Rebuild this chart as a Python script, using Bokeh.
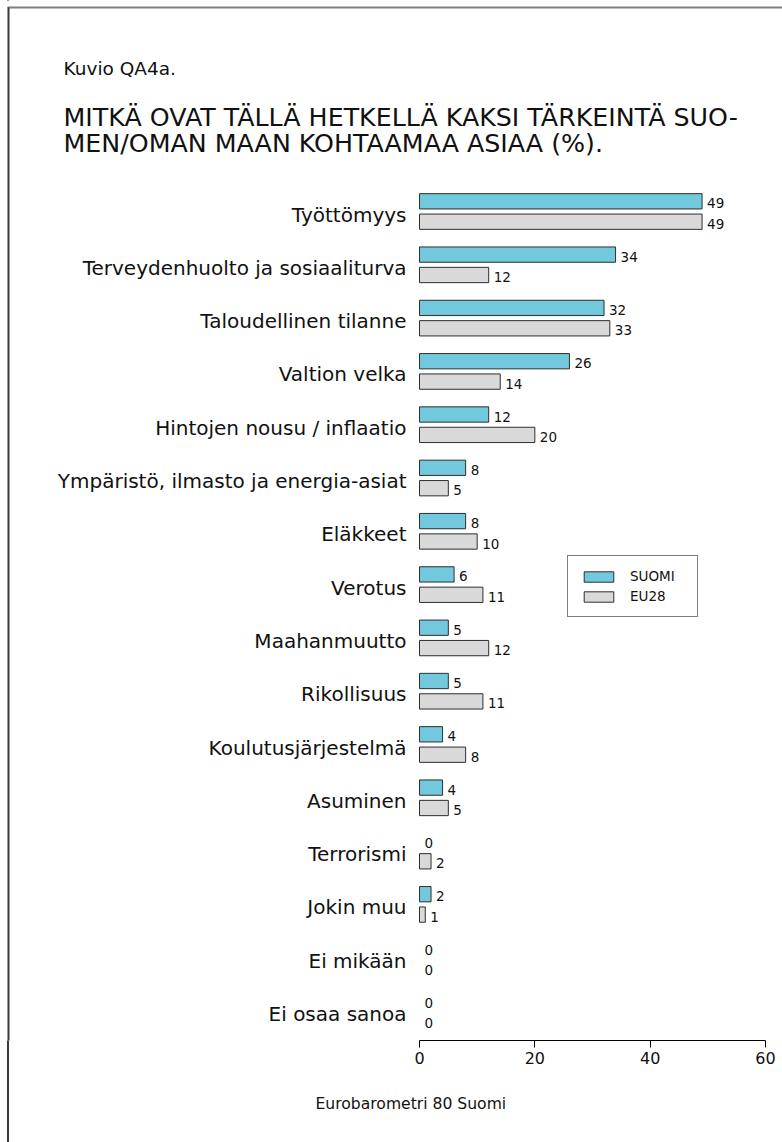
from bokeh.plotting import figure
from bokeh.models import Range1d, Legend, LegendItem, Title, FixedTicker, BoxAnnotation
from bokeh.core.properties import value
from bokeh.embed import file_html
from bokeh.resources import INLINE

# ---------------- data ----------------
categories = [
    "Työttömyys",
    "Terveydenhuolto ja sosiaaliturva",
    "Taloudellinen tilanne",
    "Valtion velka",
    "Hintojen nousu / inflaatio",
    "Ympäristö, ilmasto ja energia-asiat",
    "Eläkkeet",
    "Verotus",
    "Maahanmuutto",
    "Rikollisuus",
    "Koulutusjärjestelmä",
    "Asuminen",
    "Terrorismi",
    "Jokin muu",
    "Ei mikään",
    "Ei osaa sanoa",
]
suomi = [49, 34, 32, 26, 12, 8, 8, 6, 5, 5, 4, 4, 0, 2, 0, 0]
eu28 = [49, 12, 33, 14, 20, 5, 10, 11, 12, 11, 8, 5, 2, 1, 0, 0]
series_names = ["SUOMI", "EU28"]
x_ticks = [0, 20, 40, 60]
figure_label = "Kuvio QA4a."
title_lines = ["MITKÄ OVAT TÄLLÄ HETKELLÄ KAKSI TÄRKEINTÄ SUO-",
               "MEN/OMAN MAAN KOHTAAMAA ASIAA (%)."]
footer_text = "Eurobarometri 80 Suomi"

# ---------------- layout constants ----------------
W, H = 782, 1142
X0_PX, X60_PX = 419, 765          # canvas x of value 0 and value 60
PX_PER = (X60_PX - X0_PX) / 60.0
x_start = -X0_PX / PX_PER
x_end = 60 + (W - X60_PX) / PX_PER
FIRST_PX = 211.0                  # canvas y of first category centre
STEP = 53.3                       # px between categories
FRAME_BOTTOM = 1040.0
y_end = FIRST_PX / STEP
y_start = -(FRAME_BOTTOM - FIRST_PX) / STEP


def ydata(canvas_y):
    return -(canvas_y - FIRST_PX) / STEP


FONT = value("DejaVu Sans")
C_FI = "#72C8DC"
C_EU = "#D9D9D9"
C_LINE = "#2e2e2e"
C_FRAME_L = "#3a3a3a"
C_FRAME_T = "#7f7f7f"

pos = [-i for i in range(len(categories))]
off = 10.2 / STEP
bh = 15.3 / STEP
y_fi = [p + off for p in pos]
y_eu = [p - off for p in pos]

p = figure(width=W, height=H, output_backend="svg", toolbar_location=None,
           x_range=Range1d(x_start, x_end), y_range=Range1d(y_start, y_end),
           y_axis_location=None, min_border_left=0, min_border_right=0,
           min_border_top=0, min_border_bottom=int(H - FRAME_BOTTOM))
p.outline_line_color = None
p.grid.visible = False
p.background_fill_color = "white"
p.border_fill_alpha = 0
# page frame continues below the plotting area (left edge only)
p.styles = {"background": "linear-gradient(to right, #ffffff 7px, %s 7px, %s 9px, #ffffff 9px)"
            % (C_FRAME_L, C_FRAME_L)}

# page frame (top / left edges, as in the reference)
p.add_layout(BoxAnnotation(left=7, right=W, top=6, bottom=8,
                           left_units="canvas", right_units="canvas",
                           top_units="canvas", bottom_units="canvas",
                           fill_color=C_FRAME_T, fill_alpha=1, line_alpha=0,
                           level="overlay"))
p.add_layout(BoxAnnotation(left=7, right=9, top=7, bottom=H,
                           left_units="canvas", right_units="canvas",
                           top_units="canvas", bottom_units="canvas",
                           fill_color=C_FRAME_L, fill_alpha=1, line_alpha=0,
                           level="overlay"))

r_fi = p.hbar(y=y_fi, left=0, right=suomi, height=bh, fill_color=C_FI,
              line_color=C_LINE, line_width=1,
              line_alpha=[1 if v > 0 else 0 for v in suomi])
r_eu = p.hbar(y=y_eu, left=0, right=eu28, height=bh, fill_color=C_EU,
              line_color=C_LINE, line_width=1,
              line_alpha=[1 if v > 0 else 0 for v in eu28])

p.text(x=suomi, y=y_fi, text=[str(v) for v in suomi], x_offset=5, y_offset=2,
       text_baseline="middle", text_align="left", text_font=FONT,
       text_font_size="13.5px", text_color="#111111")
p.text(x=eu28, y=y_eu, text=[str(v) for v in eu28], x_offset=5, y_offset=2,
       text_baseline="middle", text_align="left", text_font=FONT,
       text_font_size="13.5px", text_color="#111111")

# category labels
p.text(x=[0] * len(categories), y=pos, text=categories, x_offset=-13, y_offset=3,
       text_align="right", text_baseline="middle", text_font=FONT,
       text_font_size="20px", text_color="#111111")

# titles
p.text(x=[0], y=[ydata(68)], text=[figure_label], x_offset=63 - X0_PX,
       text_align="left", text_baseline="middle", text_font=FONT,
       text_font_size="18.5px", text_color="#111111")
p.text(x=[0, 0], y=[ydata(117), ydata(143)], text=title_lines, x_offset=63 - X0_PX,
       text_align="left", text_baseline="middle", text_font=FONT,
       text_font_size="25.3px", text_color="#111111")

# x axis
ax = p.xaxis[0]
ax.bounds = (0, 60)
ax.ticker = FixedTicker(ticks=x_ticks)
ax.minor_tick_line_color = None
ax.major_tick_in = 0
ax.major_tick_out = 7
ax.major_label_standoff = 4
ax.axis_line_color = "black"
ax.major_tick_line_color = "black"
ax.major_label_text_font = "DejaVu Sans"
ax.major_label_text_font_size = "16px"
ax.major_label_text_color = "#111111"

# footer
p.add_layout(Title(text=footer_text, align="left", offset=315, standoff=53,
                   text_font="DejaVu Sans", text_font_style="normal",
                   text_font_size="15.6px", text_color="#111111"), "below")

# legend
legend = Legend(items=[LegendItem(label=series_names[0], renderers=[r_fi]),
                       LegendItem(label=series_names[1], renderers=[r_eu])],
                location=(567, int(FRAME_BOTTOM - 617)), orientation="vertical",
                border_line_color="black", border_line_width=1,
                background_fill_color="white", background_fill_alpha=1,
                padding=12, spacing=4, margin=0,
                glyph_width=37, glyph_height=13, label_height=13, label_width=55,
                label_standoff=13, label_text_font="DejaVu Sans",
                label_text_font_size="13.5px", label_text_color="#111111")
p.add_layout(legend)

open("out.html", "w").write(file_html(p, INLINE))
